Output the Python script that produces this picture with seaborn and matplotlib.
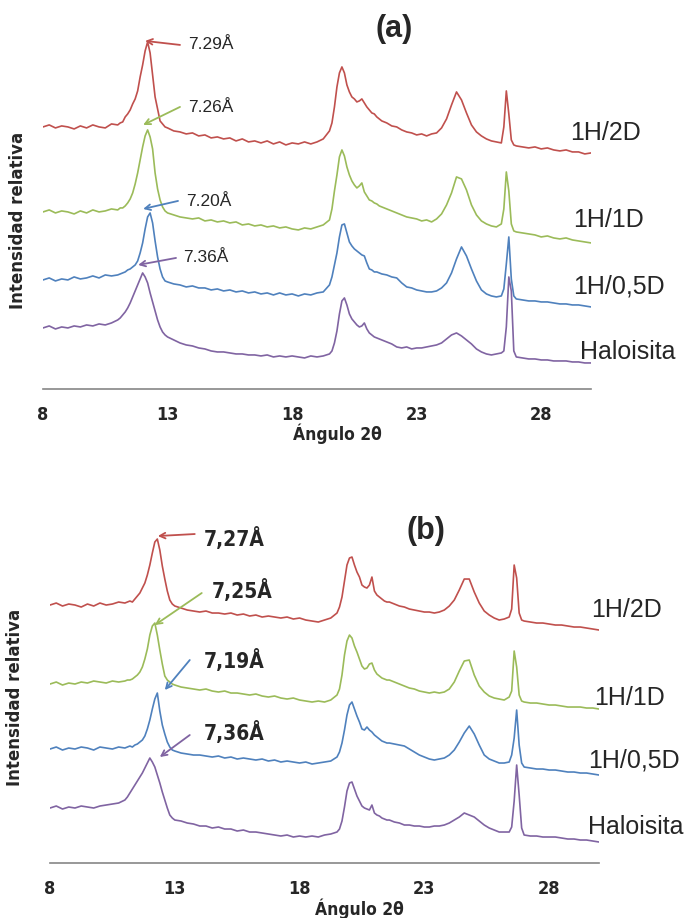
import numpy as np
import pandas as pd
import matplotlib
matplotlib.use('Agg')
import matplotlib.pyplot as plt
import seaborn as sns

# 2theta sampling (finer around the reflections)
two_theta = np.round(np.concatenate([
    np.linspace(8, 10.75, 12),
    np.linspace(11, 12.9, 20),
    np.linspace(13, 19.25, 26),
    np.linspace(19.5, 21.5, 21),
    np.linspace(21.6, 26.4, 25),
    np.linspace(26.5, 27.0, 6),
    np.linspace(27.25, 30, 12),
]), 2)

samples = ['1H/2D', '1H/1D', '1H/0,5D', 'Haloisita']
colors = ['#C0504D', '#9BBB59', '#4F81BD', '#8064A2']

# ---- panel (a): stacked intensities (a.u.) ----
red_a = [
    262, 264, 261, 263, 262, 260, 263, 261, 264, 262, 261, 265,
    264, 266, 267, 272, 275, 279, 285, 290, 298, 312, 324, 338, 347, 336, 314, 292, 280, 268, 265, 262,
    261, 258, 257, 255, 256, 253, 254, 251, 252, 250, 251, 248, 250, 247, 248, 246, 248, 245, 247, 244,
    246, 245, 247, 245, 247, 250,
    258, 266, 282, 302, 316, 322, 316, 304, 297, 292, 290, 287, 288, 290, 286, 282, 279, 276, 275, 272, 270,
    268, 266, 263, 262, 259, 257, 256, 254, 255, 253, 255, 256, 261, 270, 284, 297, 289, 276, 264, 257,
    253, 250, 248, 247, 246,
    262, 298, 275, 249, 244, 243,
    242, 241, 242, 240, 241, 239, 238, 239, 237, 237, 235, 236,
]
green_a = [
    177, 179, 176, 178, 177, 175, 178, 176, 179, 177, 178, 180,
    179, 181, 181, 183, 186, 190, 196, 205, 216, 229, 242, 253, 259, 252, 240, 216, 200, 189, 182, 178,
    176, 174, 172, 171, 170, 171, 168, 169, 167, 168, 166, 167, 164, 165, 163, 164, 162, 163, 161, 162,
    160, 159, 161, 160, 162, 164,
    169, 180, 198, 214, 232, 239, 233, 222, 214, 208, 204, 201, 203, 206, 197, 193, 189, 188, 186, 185, 183,
    182, 180, 178, 176, 174, 172, 171, 170, 168, 169, 167, 170, 175, 184, 196, 212, 210, 199, 184, 174,
    168, 165, 163, 162, 165,
    180, 217, 198, 165, 158, 157,
    156, 155, 154, 152, 153, 151, 150, 151, 149, 148, 147, 146,
]
blue_a = [
    109, 111, 108, 110, 109, 112, 110, 111, 113, 111, 114, 113,
    114, 115, 116, 117, 119, 120, 122, 124, 128, 136, 146, 160, 172, 176, 166, 148, 132, 120, 112, 108,
    107, 105, 104, 102, 103, 101, 101, 99, 100, 98, 99, 97, 98, 96, 97, 95, 96, 94, 96, 94,
    95, 93, 95, 94, 96, 97,
    104, 112, 124, 136, 152, 164, 165, 156, 147, 143, 140, 138, 136, 134, 133, 126, 120, 119, 117, 117, 116,
    115, 114, 112, 111, 106, 102, 101, 99, 98, 97, 97, 98, 101, 106, 116, 130, 142, 133, 120, 108,
    99, 95, 93, 92, 93,
    100, 125, 152, 110, 93, 90,
    89, 88, 88, 87, 87, 86, 85, 85, 84, 84, 83, 82,
]
purple_a = [
    61, 63, 60, 62, 61, 63, 62, 64, 63, 65, 64, 66,
    69, 71, 74, 77, 81, 86, 92, 98, 104, 110, 116, 112, 106, 96, 87, 78, 69, 62, 57, 54,
    52, 49, 46, 44, 43, 41, 40, 38, 37, 37, 36, 35, 35, 34, 34, 33, 34, 32, 33, 32,
    33, 32, 31, 33, 32, 33,
    35, 38, 46, 58, 75, 88, 91, 84, 75, 70, 67, 64, 62, 63, 66, 60, 56, 54, 52, 51, 50,
    49, 47, 45, 42, 41, 42, 40, 41, 41, 42, 43, 44, 46, 50, 54, 56, 53, 49, 45, 40,
    37, 35, 34, 35, 36,
    38, 62, 112, 98, 38, 32,
    31, 30, 30, 29, 29, 28, 28, 28, 27, 27, 26, 26,
]

# ---- panel (b) ----
red_b = [
    258, 260, 257, 259, 258, 256, 259, 257, 260, 258, 259, 261,
    260, 261, 262, 261, 264, 267, 270, 275, 280, 288, 298, 310, 321, 324, 313, 297, 284, 272, 263, 259,
    257, 255, 253, 252, 251, 252, 250, 250, 249, 250, 248, 249, 247, 248, 246, 247, 246, 245, 246, 244,
    245, 243, 242, 241, 243, 245,
    250, 256, 266, 282, 298, 305, 306, 298, 291, 286, 278, 276, 275, 278, 286, 272, 268, 266, 264, 262, 261,
    261, 259, 257, 256, 254, 253, 252, 251, 251, 250, 251, 253, 257, 263, 273, 284, 284, 271, 260, 252,
    248, 245, 243, 244, 246,
    254, 298, 285, 250, 243, 242,
    241, 240, 240, 239, 238, 238, 237, 236, 236, 235, 234, 233,
]
green_b = [
    179, 181, 178, 180, 179, 181, 180, 182, 181, 180, 182, 181,
    182, 183, 183, 184, 186, 188, 191, 196, 204, 214, 228, 237, 240, 228, 213, 199, 187, 183, 181, 179,
    178, 176, 175, 174, 173, 174, 172, 171, 172, 170, 170, 169, 168, 169, 167, 166, 167, 165, 164, 165,
    163, 162, 161, 162, 161, 163,
    168, 174, 188, 208, 222, 228, 225, 217, 211, 204, 197, 194, 195, 199, 200, 193, 189, 187, 185, 184, 183,
    183, 181, 179, 177, 175, 174, 172, 171, 170, 171, 170, 171, 174, 181, 192, 202, 203, 188, 177, 171,
    167, 165, 164, 163, 166,
    172, 212, 196, 168, 162, 161,
    160, 160, 159, 158, 158, 157, 156, 156, 156, 155, 155, 154,
]
blue_b = [
    114, 116, 113, 115, 114, 116, 115, 113, 116, 115, 114, 116,
    115, 116, 117, 116, 118, 119, 121, 123, 127, 134, 143, 154, 164, 170, 152, 138, 129, 121, 116, 113,
    112, 110, 109, 108, 108, 107, 106, 107, 105, 106, 104, 105, 104, 103, 104, 102, 103, 101, 102, 101,
    100, 101, 99, 100, 101, 102,
    106, 111, 120, 133, 148, 158, 161, 154, 147, 141, 134, 133, 136, 133, 131, 128, 126, 124, 122, 121, 120,
    120, 119, 118, 117, 114, 111, 108, 106, 104, 103, 104, 105, 108, 113, 121, 130, 137, 129, 118, 108,
    104, 102, 100, 100, 101,
    108, 125, 153, 118, 100, 96,
    95, 94, 94, 93, 93, 92, 91, 91, 90, 90, 89, 88,
]
purple_b = [
    55, 57, 54, 56, 55, 57, 56, 55, 57, 58, 59, 60,
    63, 66, 70, 74, 78, 82, 86, 90, 95, 100, 105, 101, 96, 88, 80, 71, 63, 55, 48, 45,
    43, 42, 40, 39, 37, 37, 35, 36, 34, 34, 32, 33, 31, 31, 30, 29, 28, 27, 28, 26,
    27, 26, 27, 26, 28, 29,
    31, 34, 42, 56, 72, 80, 81, 74, 67, 62, 57, 55, 54, 53, 58, 50, 48, 47, 45, 44, 43,
    43, 41, 40, 38, 38, 37, 37, 36, 36, 37, 37, 38, 40, 43, 46, 50, 48, 46, 42, 38,
    35, 33, 31, 31, 31,
    36, 62, 98, 68, 35, 28,
    27, 27, 26, 26, 26, 25, 24, 24, 23, 23, 22, 21,
]

# d-spacing labels of the 001 reflection
d001_a = ['7.29Å', '7.26Å', '7.20Å', '7.36Å']
d001_b = ['7,27Å', '7,25Å', '7,19Å', '7,36Å']

for c in [red_a, green_a, blue_a, purple_a, red_b, green_b, blue_b, purple_b]:
    assert len(c) == len(two_theta), len(c)

sns.set_style('white')
# condensed bold look for the Excel-like axis texts
narrow = dict(family='DejaVu Sans', fontstretch='condensed', fontweight='bold')


def draw_panel(ax, curves, d_labels, arrows, text_pos, name_pos, ytop, dfont):
    df = pd.DataFrame({
        'theta': np.tile(two_theta, len(samples)),
        'inten': np.concatenate(curves),
        'muestra': np.repeat(samples, len(two_theta)),
    })
    sns.lineplot(data=df, x='theta', y='inten', hue='muestra', hue_order=samples,
                 palette=dict(zip(samples, colors)), estimator=None, sort=False,
                 legend=False, lw=1.2, ax=ax)
    ax.set_xlim(8, 30)
    ax.set_ylim(0, ytop)
    ax.set_xticks([8, 13, 18, 23, 28])
    ax.set_yticks([])
    ax.set_xlabel('')
    ax.set_ylabel('')
    for s in ['top', 'right', 'left']:
        ax.spines[s].set_visible(False)
    ax.spines['bottom'].set_color('#868686')
    ax.spines['bottom'].set_linewidth(1.2)
    ax.tick_params(axis='x', direction='inout', length=8, width=1.2, color='#868686', pad=8)
    for lab in ax.get_xticklabels():
        lab.set_family(narrow['family'])
        lab.set_fontstretch('condensed')
        lab.set_fontweight('bold')
        lab.set_fontsize(13)
    for lbl, col, (tail, head), tp, in zip(d_labels, colors, arrows, text_pos):
        ax.annotate('', xy=head, xytext=tail,
                    arrowprops=dict(arrowstyle='->', color=col, lw=1.3,
                                    shrinkA=0, shrinkB=0))
        ax.text(tp[0], tp[1], lbl, ha='left', va='center', **dfont)
    for name, (x, y) in zip(samples, name_pos):
        ax.text(x, y, name, ha='left', va='center', fontsize=18,
                family='Liberation Sans', clip_on=False)


fig = plt.figure(figsize=(6.89, 9.18), dpi=100)
ax_a = fig.add_axes([0.0624, 0.5763, 0.7954, 0.4020])
ax_b = fig.add_axes([0.0726, 0.0599, 0.7968, 0.4063])

draw_panel(ax_a, [red_a, green_a, blue_a, purple_a], d001_a,
           [((13.5, 344), (12.1, 348)), ((13.5, 282), (12.02, 264)),
            ((13.42, 188), (12.02, 180)), ((13.34, 131), (11.82, 124))],
           [(13.82, 344), (13.82, 281), (13.74, 187), (13.62, 131)],
           [(29.16, 256), (29.28, 169), (29.28, 102), (29.57, 37)],
           369, dict(fontsize=12.5, family='Liberation Sans'))

draw_panel(ax_b, [red_b, green_b, blue_b, purple_b], d001_b,
           [((13.8, 329), (12.32, 327)), ((14.08, 270), (12.2, 238)),
            ((13.6, 203), (12.6, 173)), ((13.6, 128), (12.4, 106))],
           [(14.16, 325), (14.48, 273), (14.16, 203), (14.16, 131)],
           [(29.68, 253), (29.8, 165), (29.56, 103), (29.56, 36)],
           373, dict(fontsize=15, **narrow))

# panel titles and axis titles
W, H = 689, 918
fig.text(394 / W, 1 - 29 / H, '(a)', ha='center', va='center', fontsize=22,
         fontweight='bold', family='Liberation Sans')
fig.text(426 / W, 1 - 531 / H, '(b)', ha='center', va='center', fontsize=22,
         fontweight='bold', family='Liberation Sans')
for (x, y) in [(337, 434), (359, 909)]:
    fig.text(x / W, 1 - y / H, 'Ángulo 2θ', ha='center', va='center', fontsize=12.5, **narrow)
for (x, y) in [(18, 220), (15, 697)]:
    fig.text(x / W, 1 - y / H, 'Intensidad relativa', ha='center', va='center',
             rotation=90, fontsize=12, fontweight='bold', family='DejaVu Sans')

fig.savefig('out.png', dpi=100)
